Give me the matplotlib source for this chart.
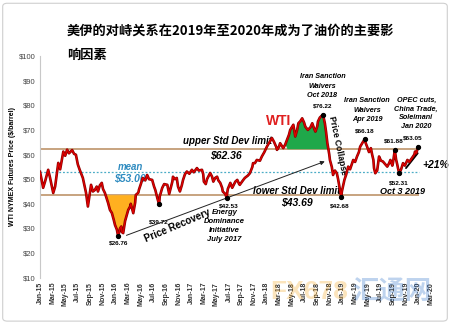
import matplotlib
matplotlib.use("Agg")
import matplotlib.pyplot as plt
import matplotlib.patheffects as pe
from matplotlib.patches import FancyBboxPatch
import numpy as np

plt.rcParams['font.family'] = ['Liberation Sans', 'Noto Sans CJK SC', 'DejaVu Sans']

# WTI front-month price, x = months since Jan 2015
months = [0.0, 0.2, 0.5, 0.8, 1.3, 1.6, 2.1, 2.4, 2.9, 3.2, 3.7, 4.0, 4.3, 4.6, 5.1, 5.4,
          5.7, 6.0, 6.3, 6.8, 7.3, 7.6, 7.9, 8.1, 8.4, 8.7, 9.0, 9.2, 9.5, 9.8, 10.0, 10.3,
          10.6, 10.8, 11.1, 11.4, 11.7, 11.9, 12.2, 12.4, 12.7, 12.9, 13.0, 13.2, 13.5, 13.7,
          14.0, 14.3, 14.4, 14.8, 15.1, 15.2, 15.6, 15.7, 16.0, 16.3, 16.7, 17.0, 17.3, 17.8,
          18.1, 18.3, 18.6, 18.9, 19.0, 19.4, 19.7, 20.2, 20.5, 20.6, 21.0, 21.1, 21.4, 21.7,
          21.9, 22.2, 22.5, 22.7, 23.0, 23.3, 23.7, 24.1, 24.4, 24.9, 25.2, 25.7, 25.9, 26.0,
          26.3, 26.5, 27.0, 27.3, 27.5, 27.8, 28.1, 28.3, 28.6, 28.9, 29.0, 29.4, 29.6, 29.8,
          30.2, 30.5, 30.6, 31.0, 31.3, 31.6, 31.7, 32.2, 32.5, 33.0, 33.3, 33.7, 33.8, 34.1,
          34.4, 34.9, 35.2, 35.6, 36.0, 36.3, 36.8, 37.1, 37.5, 37.6, 37.9, 38.1, 38.6, 38.9,
          39.2, 39.5, 39.7, 40.2, 40.5, 40.8, 41.0, 41.3, 41.6, 41.9, 42.1, 42.5, 42.9, 43.2,
          43.5, 43.7, 44.0, 44.1, 44.4, 44.9, 45.2, 45.4, 45.6, 45.9, 46.0, 46.3, 46.5, 46.8,
          47.1, 47.3, 47.5, 47.8, 47.9, 48.3, 48.6, 48.9, 49.2, 49.7, 50.0, 50.3, 50.6, 50.8,
          51.1, 51.5, 51.7, 51.9, 52.2, 52.5, 52.7, 52.9, 53.0, 53.2, 53.5, 53.8, 54.1, 54.4,
          54.8, 55.1, 55.4, 55.6, 55.9, 56.0, 56.3, 56.5, 56.7, 56.8, 57.0, 57.3, 57.6, 57.9,
          58.3, 58.6, 59.0, 59.4, 59.5, 59.7, 60.0]
prices = [53.0, 50.5, 46.5, 49.0, 53.8, 50.5, 44.4, 47.0, 56.6, 54.0, 61.2, 59.5, 62.0, 60.5, 61.8, 60.3,
          59.9, 56.0, 53.8, 50.5, 44.5, 38.9, 44.0, 47.7, 45.0, 45.6, 47.0, 45.0, 47.5, 48.5, 46.0, 44.4,
          42.0, 40.4, 37.5, 36.3, 33.5, 31.4, 29.5, 26.76, 30.0, 30.8, 28.5, 28.1, 33.0, 34.8,
          37.5, 38.9, 40.0, 36.2, 40.5, 43.6, 44.5, 45.7, 48.0, 50.5, 49.5, 51.7, 50.0, 49.7,
          47.0, 45.6, 42.5, 39.72, 43.0, 46.5, 48.0, 47.7, 44.0, 45.0, 49.0, 51.0, 50.0, 50.5,
          47.0, 45.0, 47.5, 49.7, 52.0, 53.1, 52.2, 53.8, 52.8, 54.5, 53.5, 53.8, 52.0, 49.0,
          48.0, 50.0, 52.5, 51.0, 49.0, 50.5, 51.0, 49.5, 48.5, 46.5, 45.0, 44.0, 42.53, 46.0,
          48.5, 46.5, 47.0, 49.0, 49.7, 48.0, 47.7, 49.5, 50.5, 51.5, 52.4, 55.0, 56.5, 56.5,
          57.8, 57.5, 59.2, 61.0, 63.2, 64.5, 66.7, 65.3, 63.0, 61.9, 63.0, 64.6, 62.6, 64.0,
          66.0, 68.0, 70.0, 72.1, 67.3, 70.0, 72.7, 73.5, 74.7, 73.0, 71.3, 70.0, 71.0, 72.7,
          70.5, 69.3, 71.5, 73.4, 75.0, 76.22, 72.7, 69.0, 64.6, 60.0, 57.8, 55.0, 51.7, 53.5,
          52.4, 50.0, 47.0, 42.68, 45.0, 49.7, 52.0, 55.1, 54.0, 57.8, 57.0, 59.2, 61.0, 63.2,
          64.5, 66.18, 64.5, 63.2, 61.0, 62.6, 60.0, 57.8, 54.5, 52.4, 53.5, 59.2, 57.5, 57.2,
          56.0, 55.1, 56.5, 57.8, 55.5, 56.5, 61.88, 58.0, 55.8, 54.5, 52.31, 54.0, 56.5, 55.5,
          57.8, 57.0, 58.5, 60.0, 61.2, 60.5, 63.05]

MEAN = 53.00
UPPER = 62.36
LOWER = 43.69

tick_labels = [f"{m}-{y}" for y in range(15, 21)
               for m in ["Jan", "Mar", "May", "Jul", "Sep", "Nov"]][:32]

# labelled turning points
point_months = [12.4, 18.9, 29.6, 44.9, 47.8, 51.5, 56.3, 57.0, 60.0]
point_prices = [26.76, 39.72, 42.53, 76.22, 42.68, 66.18, 61.88, 52.31, 63.05]

M = np.array(months)
P = np.array(prices)

fig = plt.figure(figsize=(4.5, 3.27), dpi=100)
fig.patch.set_facecolor("white")
fig.patches.append(FancyBboxPatch((0.006, 0.018), 0.988, 0.972,
                                  boxstyle="round,pad=0,rounding_size=0.01",
                                  transform=fig.transFigure, fill=False,
                                  edgecolor="#cfcfcf", linewidth=0.8))

ax = fig.add_axes([40 / 450, 1 - 277.7 / 327, 392 / 450, (277.7 - 56) / 327])
ax.set_xlim(0, 62.2)
ax.set_ylim(10, 100)

# shaded extremes
seg = (M >= 10.0) & (M <= 15.6)
ax.fill_between(M, P, LOWER, where=seg & (P < LOWER), interpolate=True,
                color="#FFB020", lw=0, zorder=2)
seg = (M >= 39.1) & (M <= 45.8)
ax.fill_between(M, P, UPPER, where=seg & (P > UPPER), interpolate=True,
                color="#1FA84A", lw=0, zorder=2)

ax.hlines([UPPER, LOWER], 0, 60.1, color="#b88a5c", lw=1.1, zorder=1)
ax.hlines(MEAN, 0, 60.1, color="#4bacc6", lw=0.9, linestyles=(0, (1.5, 1.5)), zorder=1)

ax.plot(M, P, color="#e00000", lw=0.9, zorder=4,
        path_effects=[pe.Stroke(linewidth=1.9, foreground="#8a0000"), pe.Normal()])

ax.plot(point_months, point_prices, "o", color="black", ms=2.8, zorder=5)

bi = dict(fontweight="bold", fontstyle="italic", ha="center", va="center")
small = dict(fontsize=4.6, fontweight="bold", ha="center", va="center")

# point labels
ax.text(12.4, 24.3, "$26.76", **small)
ax.text(18.9, 32.8, "$39.72", **small)
ax.text(30.0, 39.3, "$42.53", **small)
ax.text(44.8, 79.6, "$76.22", **small)
ax.text(47.6, 39.3, "$42.68", **small)
ax.text(51.6, 69.6, "$66.18", **small)
ax.text(56.1, 65.7, "$61.88", **small)
ax.text(56.9, 48.3, "$52.31", **small)
ax.text(59.1, 66.6, "$63.05", **small)

ax.text(29.8, 65.6, "upper Std Dev limit", fontsize=7, **bi)
ax.text(29.5, 60.0, "$62.36", fontsize=7.5, **bi)
ax.text(40.8, 45.2, "lower Std Dev limit", fontsize=7, **bi)
ax.text(40.7, 40.9, "$43.69", fontsize=7.5, **bi)
ax.text(14.3, 55.0, "mean", fontsize=7, color="#2e8bc0", **bi)
ax.text(14.3, 50.6, "$53.00", fontsize=7.5, color="#2e8bc0", **bi)
ax.text(37.8, 73.5, "WTI", fontsize=10, color="#e02020", fontweight="bold",
        ha="center", va="center")

ax.text(44.8, 87.8, "Iran Sanction\nWaivers\nOct 2018", fontsize=5.2,
        linespacing=1.45, **bi)
ax.text(51.9, 78.0, "Iran Sanction\nWaivers\nApr 2019", fontsize=5.2,
        linespacing=1.45, **bi)
ax.text(59.7, 76.7, "OPEC cuts,\nChina Trade,\nSoleimani\nJan 2020", fontsize=5.2,
        linespacing=1.4, **bi)
ax.text(29.3, 31.0, "Energy\nDominance\nInitiative\nJuly 2017", fontsize=5.5,
        linespacing=1.4, **bi)
ax.text(57.5, 44.8, "Oct 3 2019", fontsize=6.5, **bi)

# trend arrows
ax.annotate("", xy=(45.6, 57.6), xytext=(13.3, 26.8),
            arrowprops=dict(arrowstyle="-|>", color="#222222", lw=0.7,
                            mutation_scale=6), zorder=3)
ax.text(21.8, 31.0, "Price Recovery", fontsize=7, rotation=23,
        ha="center", va="center", fontweight="bold")
ax.text(47.3, 63.8, "Price Collapse", fontsize=6.2, rotation=-78,
        ha="center", va="center", fontweight="bold")
ax.annotate("", xy=(60.2, 61.4), xytext=(57.8, 53.6),
            arrowprops=dict(arrowstyle="-", color="black", lw=1.3))
ax.text(62.8, 55.8, "+21%", fontsize=7.5, fontweight="bold", fontstyle="italic",
        ha="center", va="center")

ax.set_xticks(np.arange(0, 63, 2))
ax.set_xticklabels(tick_labels, rotation=90, fontsize=5, fontweight="bold",
                   color="#333333")
ax.set_yticks(np.arange(10, 101, 10))
ax.set_yticklabels([f"${v}" for v in range(10, 101, 10)], fontsize=5.5, color="#444444")
ax.tick_params(length=0, pad=3)
for side in ["top", "right", "bottom"]:
    ax.spines[side].set_visible(False)
ax.spines["left"].set_color("#c8c8c8")
ax.spines["left"].set_linewidth(0.8)
ax.set_ylabel("WTI NYMEX Futures Price ($/barrel)", fontsize=5, fontweight="bold",
              labelpad=2)

fig.text(67 / 450, 1 - 31 / 327, "美伊的对峙关系在2019年至2020年成为了油价的主要影",
         fontsize=9.5, fontweight="bold", family=["Noto Sans CJK SC", "DejaVu Sans"],
         ha="left", va="center")
fig.text(67 / 450, 1 - 55 / 327, "响因素", fontsize=9.5, fontweight="bold",
         family=["Noto Sans CJK SC", "DejaVu Sans"], ha="left", va="center")

# site watermark
fig.text(270 / 450, 1 - 292 / 327, "FX678", fontsize=19, fontweight="bold",
         color="#f5a623", alpha=0.3, ha="left", va="center")
fig.text(352 / 450, 1 - 292 / 327, "汇通网", fontsize=19, fontweight="bold",
         family=["Noto Sans CJK SC", "DejaVu Sans"], color="#2a6fc9", alpha=0.3,
         ha="left", va="center")

fig.savefig("out.png", dpi=100)
